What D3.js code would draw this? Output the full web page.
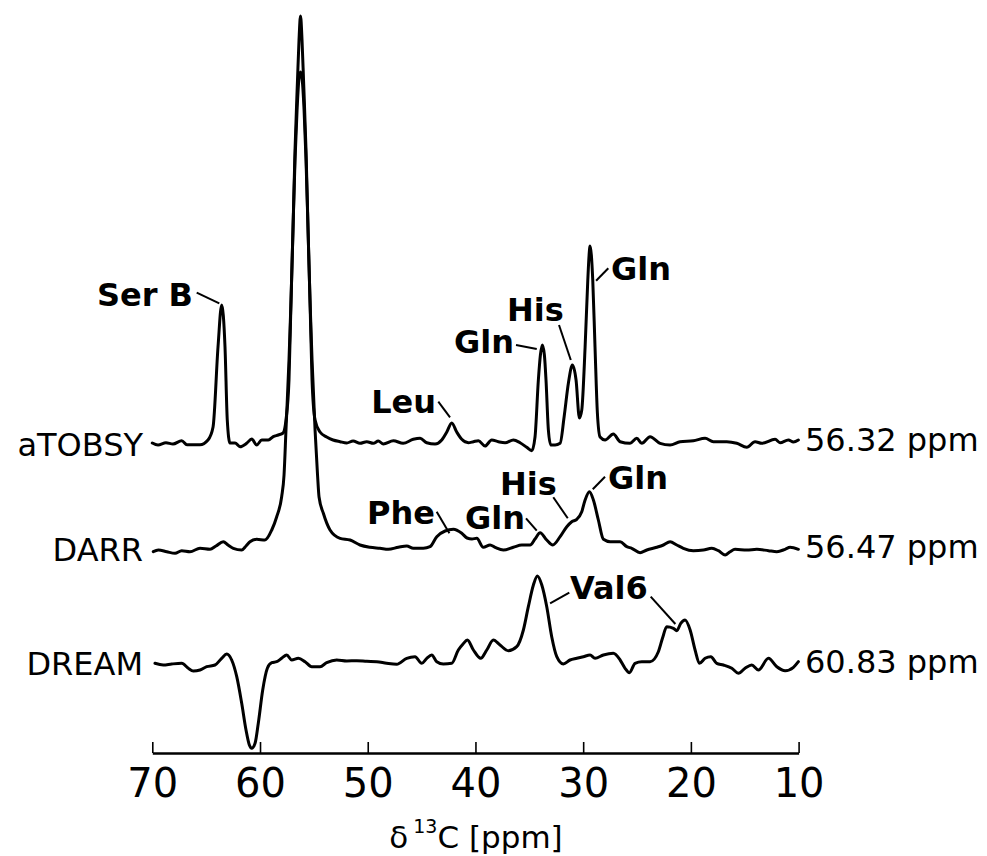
<!DOCTYPE html>
<html>
<head>
<meta charset="utf-8">
<script src="https://cdn.jsdelivr.net/npm/d3@7"></script>
<style>
  body { margin: 0; background: #fff; }
  svg { display: block; }
</style>
</head>
<body>
<svg id="chart" width="987" height="856"></svg>
<script>

// ---- data (ppm, intensity above each baseline) ----
const traceNames = ["aTOBSY", "DARR", "DREAM"];
const traceRefs = ["56.32 ppm", "56.47 ppm", "60.83 ppm"];
const tickValues = [70, 60, 50, 40, 30, 20, 10];

const atobsyPpm = [70.00, 69.47, 68.73, 68.08, 67.27, 66.78, 65.57, 64.83, 64.36, 63.90,
    63.56, 63.25, 63.04, 62.79, 62.32, 61.86, 61.24, 60.77, 60.31, 59.84,
    59.23, 58.77, 58.30, 57.86, 57.59, 57.31, 57.12, 56.94, 56.75, 56.52,
    56.38, 56.24, 56.10, 55.96, 55.73, 55.54, 55.36, 55.17, 54.89, 54.43,
    53.81, 53.22, 52.57, 51.95, 51.36, 50.72, 50.09, 49.48, 49.02, 48.55,
    47.62, 46.72, 45.77, 45.14, 44.52, 43.75, 43.13, 42.66, 42.20, 41.74,
    41.27, 40.66, 40.19, 39.73, 39.11, 38.49, 37.87, 37.25, 36.48, 35.86,
    35.24, 34.77, 34.47, 34.16, 33.97, 33.79, 33.60, 33.45, 33.23, 33.01,
    32.61, 32.14, 31.77, 31.37, 31.00, 30.66, 30.35, 30.13, 29.82, 29.57,
    29.45, 29.36, 29.24, 29.11, 28.90, 28.68, 28.43, 27.97, 27.20, 26.57,
    25.65, 25.02, 24.56, 23.79, 22.86, 21.93, 21.00, 19.77, 18.68, 17.91,
    16.67, 15.74, 14.81, 14.04, 13.42, 12.18, 11.72, 10.95, 10.48, 10.02];
const atobsyInt = [0, -2, 0.3, -1, 2.3, -1.7, -1.7, 3, 16, 96,
    138, 96, 23, 0, 0, -3.7, -0.3, 4, -2, 3,
    3, 6.3, 8, 10, 23, 63, 143, 213, 293, 363,
    403, 427, 403, 363, 293, 213, 143, 63, 23, 11,
    6, 3, 1.3, 0, 2, -0.3, 1.3, -0.3, 2, -1,
    2.3, -0.3, 3.7, 4.7, 0.3, -1, 3, 11, 20, 11,
    3.7, 0.3, 1.3, 2.3, -3, 3, 1.3, 0.3, 3, 0.3,
    -4.3, -7.7, 6, 63, 88, 98, 88, 63, 13, -2,
    -2, -0.3, 26, 60, 78, 63, 25, 33, 96, 163,
    188, 197, 188, 163, 96, 30, 6, 3, 9, 1.3,
    -0.3, 4.7, -0.3, 6.3, -0.3, -2, 1.3, 2.3, 4.7, 1.3,
    1.3, -0.3, -4.3, 1.3, -0.3, 3.7, 0.3, 3, 1, 3];

const darrPpm = [69.91, 69.44, 68.66, 67.89, 67.27, 66.50, 65.57, 64.64, 64.09, 63.41,
    62.97, 62.48, 61.70, 61.30, 60.93, 60.31, 59.54, 58.91, 58.45, 57.99,
    57.77, 57.59, 57.31, 57.12, 56.94, 56.75, 56.56, 56.38, 56.24, 56.10,
    55.91, 55.73, 55.54, 55.36, 55.17, 54.89, 54.66, 54.52, 54.12, 53.50,
    52.57, 51.64, 50.72, 49.79, 48.86, 48.09, 47.16, 46.38, 45.77, 44.84,
    44.22, 43.59, 42.82, 42.05, 41.27, 40.78, 40.32, 39.88, 39.27, 38.64,
    38.18, 37.41, 36.48, 35.70, 34.93, 34.47, 34.00, 33.38, 32.82, 32.14,
    31.52, 31.06, 30.59, 30.13, 29.82, 29.42, 29.05, 28.59, 28.12, 27.50,
    26.57, 25.95, 25.49, 24.72, 24.09, 23.17, 22.55, 21.93, 21.31, 20.70,
    19.77, 18.84, 18.06, 17.45, 16.82, 16.36, 15.90, 14.81, 13.88, 12.80,
    12.02, 11.25, 10.79, 10.02];
const darrInt = [-1.7, 0, -1.7, -3.3, -0.7, -1.7, 1.7, 0.7, 4, 8.3,
    5, 1.7, 0, 4, 8.3, 10.7, 10, 20, 33.3, 53.3,
    75, 120, 190, 250, 320, 390, 440, 472, 478, 472,
    440, 390, 320, 250, 190, 120, 75, 53, 36.7, 20,
    11.7, 10, 5, 2.7, 1.7, 0.7, 2.7, 4, 1.7, 1.7,
    3.3, 13.3, 19, 20.7, 16.7, 12, 11, 11.7, 2.7, 5,
    2.7, 0, 2.7, 5, 5, 11, 17.3, 10, 5, 13.3,
    23.3, 28.3, 30.7, 38.3, 50, 58.3, 50, 30, 10.7, 8.3,
    8.3, 3.3, 1.7, -2.7, 0, 2.7, 5, 8.3, 5, 1.7,
    -0.7, 0, 1.7, -0.7, -5, -1.7, 0.7, 0, 0.7, -0.7,
    -1.7, 0.7, 2.7, 0.7];

const dreamPpm = [69.75, 68.98, 68.20, 67.27, 66.66, 66.19, 65.57, 64.95, 64.18, 63.56,
    63.09, 62.63, 62.16, 61.70, 61.30, 60.99, 60.77, 60.46, 60.16, 59.75,
    59.32, 58.91, 58.45, 57.99, 57.52, 57.06, 56.44, 55.82, 55.20, 54.43,
    53.81, 52.88, 51.95, 51.02, 50.09, 49.16, 48.24, 47.31, 46.38, 45.61,
    44.99, 44.52, 44.06, 43.59, 42.98, 42.20, 41.59, 41.15, 40.75, 40.19,
    39.51, 38.95, 38.34, 37.72, 36.95, 36.17, 35.55, 35.09, 34.62, 34.25,
    33.84, 33.38, 32.92, 32.45, 31.84, 31.22, 30.59, 29.98, 29.36, 28.90,
    28.12, 27.20, 26.57, 26.11, 25.71, 25.18, 24.56, 23.79, 23.02, 22.63,
    22.24, 21.62, 21.31, 20.94, 20.54, 20.07, 19.61, 19.21, 18.68, 18.15,
    17.60, 16.98, 16.20, 15.59, 14.97, 14.35, 13.73, 12.80, 12.02, 11.25,
    10.48, 10.02];
const dreamInt = [-1.3, -3, -2, -1.3, -6.3, -9, -8, -4.7, -3, 3.7,
    8, 2, -14.7, -41.3, -68, -83, -86.3, -81.3, -61.3, -28,
    -6.3, -0.7, 0.3, 3.7, 7, 2, 3.7, 0.3, -4.7, -4.7,
    -0.7, 2, 1, 1.3, 0.7, 0.3, -1.3, -2.3, 3.7, 5.3,
    -1.3, 3.7, 7, 0.3, -2, -1.3, 12, 18, 22, 12,
    3.7, 12, 22, 17, 11.3, 15.3, 32, 55.3, 77, 86,
    77, 55.3, 25.3, 5.3, -2, 2, 3.7, 5.3, 7, 3.7,
    7, 8.7, 2, -6.3, -10.7, -1.3, 0.3, 0.3, 10.3, 24,
    35.3, 33.7, 31.3, 38.7, 42, 32, 12, -1.3, 3.7, 5.3,
    -1.3, -3, -6.3, -11.3, -6.3, -3, -8, 3.7, -4.7, -8.7,
    -5.3, 0.3];

// peak annotations: label, trace, and the point each leader line ends on
const annoLabels = ["Ser B", "Leu", "Gln", "His", "Gln", "Phe", "Gln", "His", "Gln", "Val6"];
const annoTrace = [0, 0, 0, 0, 0, 1, 1, 1, 1, 2];
const annoPpm = [[63.78], [42.36], [34.31], [31.15], [28.80], [42.42], [34.31], [31.43], [29.11], [33.07, 21.44]];
const annoInt = [[139.7], [25.7], [94], [83], [162.3], [16.7], [19.3], [31.7], [60.7], [58.7, 38]];

// ---- layout ----
const width = 987, height = 856;
const axisY = 753;
const traceOffset = [310, 203, 91];       // baseline of each trace, in y units above the axis
const nameBaseline = [456, 561, 675];
const refBaseline = [451, 558, 673];
// text position [x, baseline, anchor] and leader-line start [x, y] per label
const annoLayout = [
    { tx: 193, ty: 306, anchor: "end",   from: [[196.7, 292.7]] },
    { tx: 436, ty: 413, anchor: "end",   from: [[438.3, 401.7]] },
    { tx: 514, ty: 353, anchor: "end",   from: [[516, 345]] },
    { tx: 507, ty: 321, anchor: "start", from: [[559, 325]] },
    { tx: 611, ty: 280, anchor: "start", from: [[608.3, 268.3]] },
    { tx: 435, ty: 524, anchor: "end",   from: [[436.7, 511.7]] },
    { tx: 465, ty: 529, anchor: "start", from: [[526, 518.3]] },
    { tx: 500, ty: 495, anchor: "start", from: [[553.3, 497.3]] },
    { tx: 608, ty: 489, anchor: "start", from: [[605, 476.7]] },
    { tx: 570, ty: 599, anchor: "start", from: [[569.3, 592.7], [650.7, 596.7]] }
];
const font = "'DejaVu Sans', Verdana, sans-serif";

const svg = d3.select("#chart");

const x = d3.scaleLinear().domain([70, 10]).range([152.3, 798.6]);
const y = d3.scaleLinear().domain([0, 740]).range([axisY, axisY - 740]);

const traces = [
    { ppm: atobsyPpm, val: atobsyInt },
    { ppm: darrPpm, val: darrInt },
    { ppm: dreamPpm, val: dreamInt }
];

const line = d3.line().curve(d3.curveMonotoneX);

// draw DREAM first so the tall peaks sit on top
traces.forEach((t, i) => {
    const pts = t.ppm.map((p, k) => [x(p), y(traceOffset[i] + t.val[k])]);
    svg.append("path")
        .attr("d", line(pts))
        .attr("fill", "none")
        .attr("stroke", "#000")
        .attr("stroke-width", 3)
        .attr("stroke-linejoin", "round")
        .attr("stroke-linecap", "round");
});

// trace names on the left, reference shifts on the right
svg.append("g").selectAll("text")
    .data(traceNames)
    .join("text")
    .attr("x", 143)
    .attr("y", (d, i) => nameBaseline[i])
    .attr("text-anchor", "end")
    .attr("font-family", font)
    .attr("font-size", 32)
    .text(d => d);

svg.append("g").selectAll("text")
    .data(traceRefs)
    .join("text")
    .attr("x", 805)
    .attr("y", (d, i) => refBaseline[i])
    .attr("font-family", font)
    .attr("font-size", 32)
    .text(d => d);

// annotations
const ag = svg.append("g");
annoLabels.forEach((lab, i) => {
    const lay = annoLayout[i];
    annoPpm[i].forEach((p, k) => {
        ag.append("line")
            .attr("x1", lay.from[k][0]).attr("y1", lay.from[k][1])
            .attr("x2", x(p))
            .attr("y2", y(traceOffset[annoTrace[i]] + annoInt[i][k]))
            .attr("stroke", "#000")
            .attr("stroke-width", 2);
    });
    ag.append("text")
        .attr("x", lay.tx).attr("y", lay.ty)
        .attr("text-anchor", lay.anchor)
        .attr("font-family", font)
        .attr("font-weight", "bold")
        .attr("font-size", 32)
        .text(lab);
});

// x axis, ticks pointing up
const axisG = svg.append("g")
    .attr("transform", `translate(0,${axisY})`)
    .call(d3.axisBottom(x)
        .tickValues(tickValues)
        .tickFormat(d3.format("d"))
        .tickSize(-11)
        .tickSizeOuter(0)
        .tickPadding(16));
axisG.attr("font-family", font).attr("font-size", 40);
axisG.select(".domain").attr("stroke-width", 2.5);
axisG.selectAll(".tick line").attr("stroke-width", 1.6);
axisG.selectAll(".tick text").attr("fill", "#000");

const title = svg.append("text")
    .attr("x", 476)
    .attr("y", 848)
    .attr("text-anchor", "middle")
    .attr("font-family", font)
    .attr("font-size", 31);
title.append("tspan").text("δ");
title.append("tspan").attr("dx", 5).attr("dy", -15).attr("font-size", 19).text("13");
title.append("tspan").attr("dy", 15).text("C [ppm]");

</script>
</body>
</html>
